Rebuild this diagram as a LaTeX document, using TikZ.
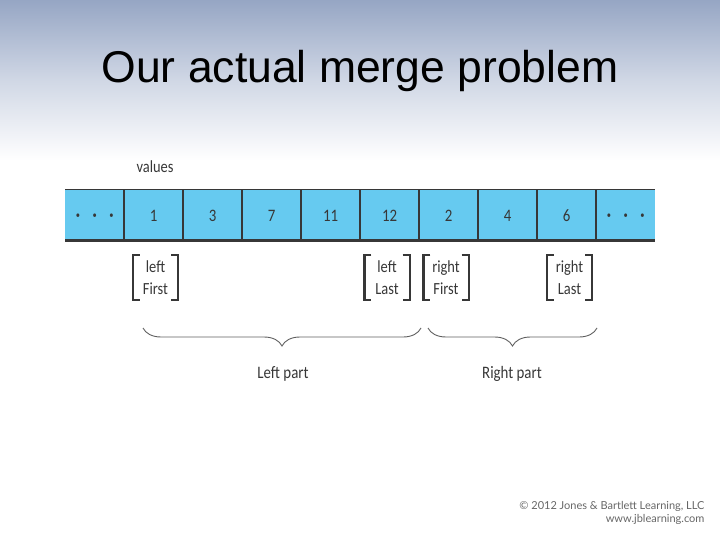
\documentclass[tikz,border=0pt]{standalone}
\usepackage{fontspec}
\setmainfont{Liberation Sans}
\newfontfamily\figfont[FakeStretch=0.85,Numbers=Lining]{Carlito}
\newfontfamily\notefont{Lato}
\usetikzlibrary{decorations.pathreplacing}
\definecolor{slidetop}{RGB}{150,166,196}
\definecolor{slidemid}{RGB}{208,215,229}
\definecolor{cellblue}{RGB}{102,202,240}
\definecolor{inkgray}{RGB}{55,55,55}
\newcommand\celldots{{\fontsize{10}{10}\selectfont\raisebox{2.5pt}{\textbullet\hspace{12.5pt}\textbullet\hspace{12.5pt}\textbullet}}}
\begin{document}
\begin{tikzpicture}[x=1pt,y=-1pt,
  cell/.style={fill=cellblue,minimum width=59pt,minimum height=50pt,inner sep=0pt,anchor=north west,text height=12pt,text depth=0pt,font=\figfont\fontsize{17.5}{18}\selectfont,text=inkgray},
  tag/.style={minimum width=45pt,minimum height=45pt,inner sep=0pt,align=center,font=\figfont\fontsize{17}{22}\selectfont,text=inkgray},
  bracket/.style={draw=inkgray,line width=2.4pt},
  part/.style={draw=inkgray!80,line width=0.9pt,decorate,decoration={brace,mirror,amplitude=18pt}},
  partlabel/.style={font=\figfont\fontsize{17.5}{20}\selectfont,text=inkgray}]
\useasboundingbox (0,0) rectangle (720,540);
\shade[top color=slidetop,bottom color=slidemid] (0,0) rectangle (720,80);
\shade[top color=slidemid,bottom color=white] (0,80) rectangle (720,160);
% title
\node[font=\fontsize{44.5}{50}\selectfont] (title) at (360,71) {Our actual merge problem};
\node[font=\figfont\fontsize{17}{18}\selectfont,text=inkgray] (values) at (155,167) {values};
% the array
\foreach \v [count=\i] in {\celldots,1,3,7,11,12,2,4,6,\celldots}
  \node[cell] (c\i) at ({65+59*(\i-1)},190) {\v};
\foreach \i in {2,...,10}
  \draw[inkgray,line width=1.5pt] (c\i.north west) -- (c\i.south west);
\draw[inkgray,line width=1pt] (c1.north west) -- (c10.north east);
\draw[inkgray,line width=2.5pt] (c1.south west) -- (c10.south east);
% index names
\node[tag] (lfirst) at (155.5,277.5) {left\\First};
\node[tag] (llast) at (387,277.5) {left\\Last};
\node[tag] (rfirst) at (446,277.5) {right\\First};
\node[tag] (rlast) at (569.5,277.5) {right\\Last};
\foreach \t in {lfirst,llast,rfirst,rlast}{
  \draw[bracket] ([xshift=7pt]\t.north west) -- (\t.north west) -- (\t.south west) -- ([xshift=7pt]\t.south west);
  \draw[bracket] ([xshift=-7pt]\t.north east) -- (\t.north east) -- (\t.south east) -- ([xshift=-7pt]\t.south east);
}
% the two parts
\coordinate (lpa) at (143,328);
\coordinate (lpb) at (421,328);
\coordinate (rpa) at (428,328);
\coordinate (rpb) at (597,328);
\draw[part] (lpa) -- (lpb);
\draw[part] (rpa) -- (rpb);
\node[partlabel] (lpart) at (283,374) {Left part};
\node[partlabel] (rpart) at (512,374) {Right part};
% credit
\node[font=\notefont\fontsize{11}{13.5}\selectfont,text=black!60,align=right,anchor=east] (credit) at (708,513) {\textcopyright{} 2012 Jones \& Bartlett Learning, LLC\\www.jblearning.com};
\end{tikzpicture}
\end{document}
